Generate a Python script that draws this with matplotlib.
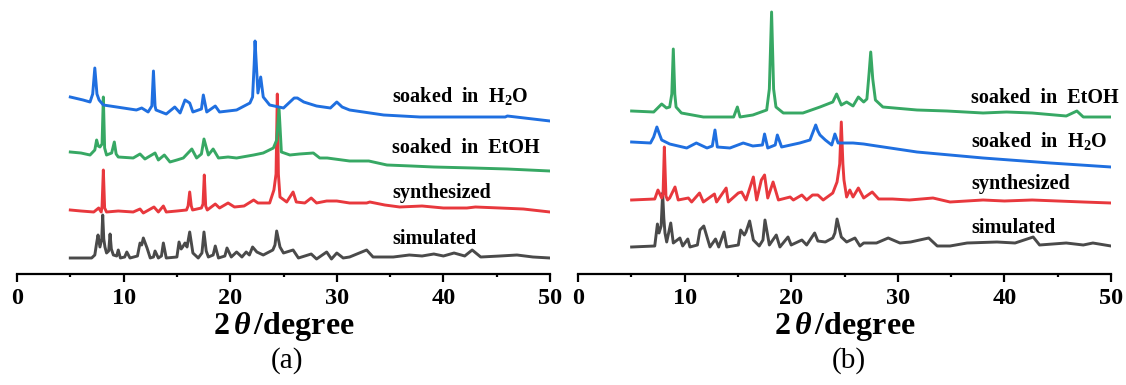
import numpy as np
from matplotlib import pyplot as plt
from matplotlib.ticker import MultipleLocator

plt.rcParams['font.family'] = 'serif'
plt.rcParams['font.serif'] = ['Liberation Serif', 'DejaVu Serif']
plt.rcParams['mathtext.fontset'] = 'custom'
plt.rcParams['mathtext.rm'] = 'Liberation Serif:bold'
plt.rcParams['mathtext.it'] = 'Liberation Serif:italic:bold'
plt.rcParams['mathtext.bf'] = 'Liberation Serif:bold'

# (2theta, intensity a.u.), panel (a)
a_sim = [(5.0, 1), (7.0, 1), (7.3, 4), (7.47, 16), (7.6, 24), (7.78, 12), (7.95, 20), (8.04, 44),
         (8.14, 20), (8.25, 12), (8.4, 6), (8.6, 8), (8.73, 25), (8.85, 10), (9.04, 4), (9.35, 3),
         (9.5, 9), (9.7, 1), (10.1, 2), (10.3, 7), (10.6, 1), (11.3, 3), (11.54, 16), (11.7, 14),
         (11.85, 21), (12.2, 11), (12.5, 1), (12.8, 2), (12.95, 8), (13.26, 1), (13.55, 3), (13.73, 16),
         (14.0, 1), (15.0, 2), (15.2, 17), (15.4, 10), (15.54, 12), (15.76, 16), (15.95, 12), (16.2, 27),
         (16.5, 6), (17.0, 1), (17.35, 6), (17.54, 27), (17.75, 8), (17.95, 2), (18.4, 4), (18.6, 13),
         (18.9, 1), (19.5, 3), (19.7, 11), (20.1, 2), (20.6, 7), (21.1, 2), (21.5, 7), (21.8, 4),
         (22.1, 12), (22.5, 7), (23.1, 4), (24.0, 9), (24.2, 14), (24.36, 28), (24.67, 12), (25.0, 6),
         (25.9, 9), (26.4, 1), (27.6, 5), (28.1, 0), (29.05, 7), (29.5, 0), (30.0, 6), (30.6, 1),
         (31.2, 2), (32.8, 9), (33.4, 2), (35.3, 2), (36.8, 4), (38.0, 3), (39.1, 5), (40.0, 3),
         (41.0, 6), (42.0, 3), (42.7, 9), (43.5, 2), (45.3, 3), (46.9, 4), (48.4, 2), (50.0, 1)]
a_syn = [(5.0, 4), (6.0, 3), (7.2, 2), (7.66, 6), (7.9, 2), (7.98, 8), (8.1, 44), (8.22, 6), (8.4, 2),
         (9.5, 3), (10.9, 2), (11.54, 5), (11.85, 1), (12.85, 7), (13.26, 2), (13.73, 8), (14.0, 2),
         (15.0, 3), (15.9, 4), (16.05, 8), (16.2, 22), (16.35, 8), (16.47, 4), (17.3, 6), (17.45, 10),
         (17.57, 39), (17.7, 8), (17.85, 4), (18.6, 10), (19.0, 6), (19.8, 11), (20.4, 7), (21.3, 8),
         (22.2, 14), (22.6, 11), (23.7, 11), (24.1, 24), (24.3, 40), (24.42, 120), (24.52, 40),
         (24.67, 17), (25.3, 12), (25.9, 22), (26.2, 12), (27.0, 11), (27.6, 16), (28.1, 11), (29.05, 13),
         (30.0, 13), (31.2, 11), (32.8, 11), (33.1, 12), (34.5, 9), (35.9, 7), (38.0, 8), (40.0, 6),
         (42.2, 6), (43.0, 7), (45.3, 6), (47.5, 5), (50.0, 2)]
a_etoh = [(5.0, 22), (6.0, 21), (6.85, 19), (7.3, 24), (7.47, 34), (7.62, 28), (7.78, 27), (7.98, 30),
          (8.1, 77), (8.22, 26), (8.4, 19), (8.88, 21), (9.13, 32), (9.3, 20), (9.5, 17), (10.9, 16),
          (11.54, 20), (12.0, 15), (12.95, 21), (13.26, 14), (13.82, 19), (14.35, 12), (15.0, 14),
          (15.6, 16), (16.4, 25), (16.85, 16), (17.3, 20), (17.54, 35), (17.95, 19), (18.4, 25),
          (18.9, 16), (19.8, 17), (20.6, 16), (22.2, 19), (23.1, 21), (24.05, 26), (24.36, 34),
          (24.58, 66), (24.8, 22), (25.6, 19), (26.5, 20), (27.8, 21), (28.4, 16), (29.1, 16),
          (31.2, 13), (33.0, 13), (34.7, 9), (37.0, 8), (39.1, 7), (42.8, 6), (46.0, 5), (50.0, 3)]
a_h2o = [(5.0, 27), (6.2, 24), (6.85, 22), (7.1, 30), (7.3, 56), (7.5, 30), (7.7, 24), (8.1, 19),
         (9.35, 17), (11.2, 14), (11.7, 16), (12.3, 12), (12.65, 18), (12.8, 53), (12.95, 18),
         (13.04, 14), (14.0, 10), (14.8, 17), (15.3, 11), (15.76, 24), (16.2, 21), (16.5, 12),
         (17.3, 15), (17.48, 29), (17.8, 12), (18.6, 18), (19.0, 12), (20.6, 14), (21.85, 21),
         (22.1, 27), (22.25, 60), (22.33, 83), (22.45, 60), (22.6, 31), (22.86, 47), (23.1, 27),
         (23.7, 19), (25.0, 16), (26.0, 26), (26.3, 26), (26.9, 22), (28.1, 18), (29.4, 16), (30.0, 22),
         (30.5, 17), (31.2, 14), (34.4, 9), (37.8, 7), (40.6, 7), (45.8, 7), (46.0, 8), (50.0, 3)]

# panel (b)
b_sim = [(5.03, 1), (7.2, 2), (7.45, 24), (7.6, 15), (7.8, 22), (7.94, 55), (8.05, 30), (8.16, 15),
         (8.32, 6), (8.7, 25), (8.94, 5), (9.56, 10), (9.82, 2), (10.3, 9), (10.5, 1), (11.2, 3),
         (11.44, 18), (11.8, 22), (12.13, 10), (12.38, 1), (12.9, 9), (13.2, 1), (13.7, 16), (13.95, 1),
         (15.04, 3), (15.26, 18), (15.6, 13), (15.76, 16), (16.1, 27), (16.45, 8), (17.0, 2), (17.35, 8),
         (17.54, 28), (17.95, 3), (18.6, 13), (18.94, 1), (19.7, 11), (20.0, 3), (21.0, 8), (21.45, 3),
         (22.2, 15), (22.5, 7), (23.2, 6), (23.9, 10), (24.1, 15), (24.3, 29), (24.7, 11), (25.2, 6),
         (25.98, 10), (26.45, 2), (26.8, 5), (28.0, 5), (29.1, 10), (30.2, 5), (31.2, 6), (32.9, 10),
         (33.7, 2), (34.9, 2), (36.5, 5), (39.3, 6), (41.0, 5), (42.7, 11), (43.3, 3), (45.8, 5),
         (47.4, 3), (48.3, 5), (50.0, 2)]
b_syn = [(5.03, 4), (7.2, 5), (7.5, 14), (7.85, 6), (7.98, 10), (8.1, 57), (8.25, 8), (8.4, 4), (8.6, 6),
         (9.1, 17), (9.4, 4), (10.35, 6), (10.66, 2), (11.4, 11), (11.76, 2), (12.8, 10), (13.0, 2),
         (13.9, 16), (14.1, 2), (15.04, 11), (15.35, 12), (15.76, 4), (16.45, 27), (16.76, 4), (17.2, 24),
         (17.5, 29), (17.8, 6), (18.3, 22), (18.8, 4), (19.9, 7), (20.2, 4), (21.0, 9), (21.45, 4),
         (22.0, 9), (22.5, 9), (23.0, 4), (23.9, 11), (24.3, 22), (24.55, 40), (24.7, 82), (24.85, 40),
         (24.95, 24), (25.2, 7), (25.5, 14), (25.8, 7), (26.3, 16), (26.8, 6), (27.6, 12), (28.2, 5),
         (29.5, 5), (31.1, 4), (33.3, 6), (34.9, 2), (38.0, 4), (40.0, 3), (42.6, 4), (45.0, 3),
         (47.4, 2), (50.0, 1)]
b_h2o = [(5.03, 27), (6.8, 26), (7.1, 32), (7.4, 42), (7.6, 36), (7.85, 29), (8.6, 25), (10.2, 21),
         (11.1, 26), (12.1, 21), (12.6, 23), (12.85, 39), (13.07, 22), (14.25, 21), (15.5, 26),
         (16.4, 23), (17.3, 24), (17.5, 35), (17.8, 21), (18.5, 24), (18.7, 34), (19.1, 22), (20.8, 26),
         (21.76, 29), (22.3, 44), (22.5, 38), (22.7, 34), (23.2, 29), (23.8, 24), (24.1, 35), (24.4, 26),
         (25.8, 26), (26.8, 25), (27.4, 24), (31.8, 17), (38.0, 11), (44.3, 6), (50.0, 2)]
b_etoh = [(5.03, 8), (7.1, 7), (7.85, 15), (8.3, 11), (8.6, 12), (8.8, 25), (8.94, 70), (9.08, 25),
          (9.2, 12), (9.7, 6), (11.76, 2), (13.3, 2), (14.6, 2), (14.95, 12), (15.2, 2), (16.4, 4),
          (17.7, 9), (17.95, 30), (18.16, 107), (18.35, 30), (18.57, 12), (19.26, 6), (21.1, 6),
          (22.7, 12), (23.9, 17), (24.26, 25), (24.7, 14), (25.2, 17), (25.8, 13), (26.3, 22), (26.8, 17),
          (27.1, 20), (27.3, 45), (27.46, 67), (27.65, 40), (27.9, 19), (28.6, 12), (31.8, 9), (34.6, 8),
          (38.0, 6), (40.2, 7), (42.6, 6), (45.8, 3), (46.8, 8), (47.4, 2), (50.0, 2)]

GRAY = '#4a4a4a'
RED = '#e8383d'
GREEN = '#37a864'
BLUE = '#1f6fe0'


def draw_panel(ax, curves, labels, label_x):
    for data, offset, color in curves:
        x, y = np.array(data, dtype=float).T
        ax.plot(x, y + offset, color=color, lw=2.1, solid_joinstyle='round')
    for text, ypos in labels:
        ax.text(label_x, ypos, text, fontsize=14.5, fontweight='bold', va='baseline')
    ax.set_xlim(0, 50)
    ax.set_ylim(0, 266)
    for s in ['left', 'right', 'top']:
        ax.spines[s].set_visible(False)
    ax.spines['bottom'].set_linewidth(1.6)
    ax.set_yticks([])
    ax.xaxis.set_major_locator(MultipleLocator(10))
    ax.xaxis.set_minor_locator(MultipleLocator(5))
    ax.tick_params(axis='x', which='major', direction='out', length=6, width=1.6, pad=4,
                   labelsize=17.5)
    ax.tick_params(axis='x', which='minor', direction='out', length=2.5, width=1.6)
    for t in ax.get_xticklabels():
        t.set_fontweight('bold')


fig = plt.figure(figsize=(11.26, 3.85), dpi=100)
ax_a = fig.add_axes([17 / 1126, 111 / 385, 533 / 1126, 266 / 385])
ax_b = fig.add_axes([578 / 1126, 111 / 385, 533 / 1126, 266 / 385])

draw_panel(ax_a,
           [(a_sim, 15, GRAY), (a_syn, 60, RED), (a_etoh, 100, GREEN), (a_h2o, 150, BLUE)],
           [('simulated', 30), ('synthesized', 76), ('soaked  in  EtOH', 121),
            ('soaked  in  H$_2$O', 172)],
           35.2)
draw_panel(ax_b,
           [(b_sim, 26, GRAY), (b_syn, 70, RED), (b_h2o, 105, BLUE), (b_etoh, 155, GREEN)],
           [('simulated', 41), ('synthesized', 85), ('soaked  in  H$_2$O', 127),
            ('soaked  in  EtOH', 171)],
           36.9)

for ax, tag in [(ax_a, '(a)'), (ax_b, '(b)')]:
    pos = ax.get_position()
    xc = (pos.x0 + pos.x1) / 2
    fig.text(xc, 51 / 385, r'2$\,\theta\,$/degree', fontsize=23, fontweight='bold',
             ha='center', va='baseline')
    fig.text(xc + 4 / 1126, 17 / 385, tag, fontsize=21, ha='center', va='baseline')

fig.savefig('out.png', dpi=100)
